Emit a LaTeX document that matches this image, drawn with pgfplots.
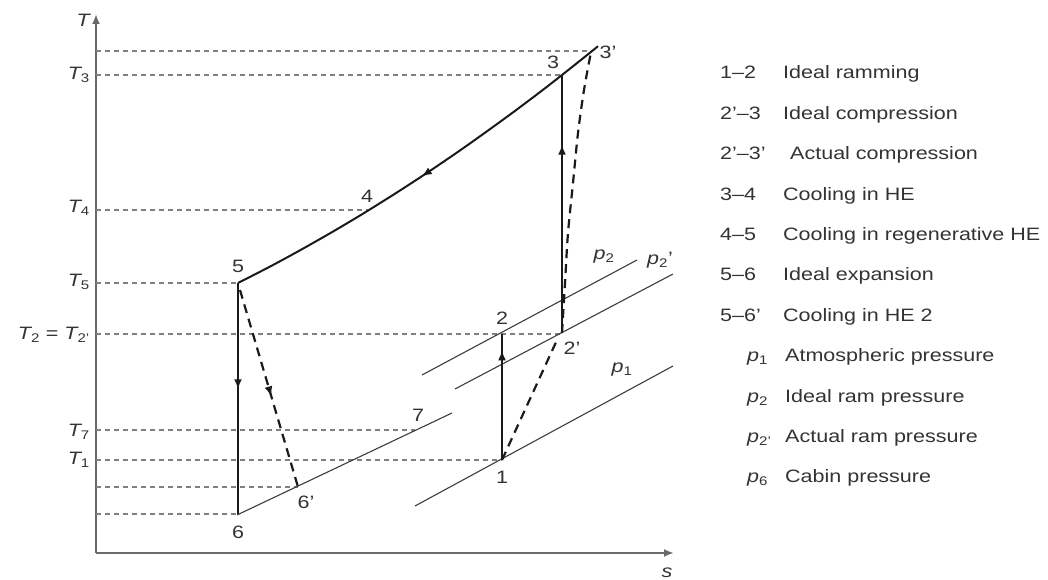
\documentclass[border=0pt]{standalone}
\usepackage{fontspec}
\setmainfont{Liberation Sans}[FakeStretch=1.2]
\usepackage{pgfplots}
\pgfplotsset{compat=1.18}
\usetikzlibrary{arrows.meta,decorations.markings}

\definecolor{ink}{HTML}{1A1A1A}
\definecolor{txt}{HTML}{333333}
\definecolor{guidegray}{HTML}{808080}
\definecolor{axisgray}{HTML}{6A6A6A}

\begin{document}
\begin{tikzpicture}[
  lbl/.style={font=\fontsize{18}{21}\selectfont, text=txt, inner sep=0pt},
]
\begin{axis}[
  width=1048bp, height=580bp, scale only axis,
  xmin=0, xmax=1048, ymin=0, ymax=580,
  hide axis, clip=false,
  tline/.style={guidegray, line width=1.3bp, dash pattern=on 5bp off 4bp, mark=none},
  proc/.style={ink, line width=2bp, mark=none},
  dproc/.style={ink, line width=2.2bp, dash pattern=on 9bp off 6bp, mark=none},
  isobar/.style={ink!85, line width=1.1bp, mark=none},
  arr/.style={postaction={decorate}, decoration={markings,
      mark=at position #1 with {\arrow{Latex[length=10bp,width=8bp]}}}},
]
% fixed page frame
\path (axis cs:0,0) rectangle (axis cs:1048,580);

% T and s axes
\draw[axisgray, line width=2bp, -{Latex[length=10bp,width=8bp]}] (axis cs:96,27) -- (axis cs:96,566);
\draw[axisgray, line width=2bp, -{Latex[length=10bp,width=8bp]}] (axis cs:96,27) -- (axis cs:674,27);

% temperature levels
\addplot[tline] coordinates {(96,529) (592,529)};
\addplot[tline] coordinates {(96,505) (562,505)};
\addplot[tline] coordinates {(96,370) (368,370)};
\addplot[tline] coordinates {(96,297) (238,297)};
\addplot[tline] coordinates {(96,246) (562,246)};
\addplot[tline] coordinates {(96,150) (415,150)};
\addplot[tline] coordinates {(96,120) (502,120)};
\addplot[tline] coordinates {(96,93) (298,93)};
\addplot[tline] coordinates {(96,66) (238,66)};

% constant-pressure lines
\addplot[isobar] coordinates {(237,65) (452,167)};   % p6
\addplot[isobar] coordinates {(415,74) (673,214)};   % p1
\addplot[isobar] coordinates {(422,205) (637,320)};  % p2
\addplot[isobar] coordinates {(455,191) (673,306)};  % p2'

% cooling curve 3'-3-4-5
\addplot[proc, smooth, arr=220pt] coordinates {
  (598,533.8) (590,527.3) (562,505) (540,487.9) (510,465.4) (480,443.7)
  (455,426.1) (425,405.8) (395,386.3) (362,365.7) (330,346.7) (300,329.7)
  (270,313.4) (238,297)};

% 1-2 ideal ramming
\addplot[proc, arr=0.87] coordinates {(502,120) (502,246)};
% 2'-3 ideal compression
\addplot[proc, arr=0.73] coordinates {(562,247) (562,505)};
% 5-6 ideal expansion
\addplot[proc, arr=0.46] coordinates {(238,297) (238,66)};

% actual processes
\addplot[dproc] coordinates {(502,120) (557,240)};
\addplot[dproc, smooth] coordinates {
  (562,247) (565,297) (568,347) (573,397) (578,447) (584,490) (591,528)};
\addplot[dproc, arr=0.54] coordinates {(240,290) (298,93)};

% axis labels
\node[lbl, anchor=base east] at (axis cs:90,553) {\itshape T};
\node[lbl] at (axis cs:667,7) {\itshape s};

\node[lbl, anchor=base east] at (axis cs:90,500) {{\itshape T}\textsubscript{3}};
\node[lbl, anchor=base east] at (axis cs:90,367) {{\itshape T}\textsubscript{4}};
\node[lbl, anchor=base east] at (axis cs:90,293) {{\itshape T}\textsubscript{5}};
\node[lbl, anchor=base east] at (axis cs:90,240) {{\itshape T}\textsubscript{2} = {\itshape T}\textsubscript{2'}};
\node[lbl, anchor=base east] at (axis cs:90,143) {{\itshape T}\textsubscript{7}};
\node[lbl, anchor=base east] at (axis cs:90,115) {{\itshape T}\textsubscript{1}};

% state points
\node[lbl] at (axis cs:553,518) {3};
\node[lbl] at (axis cs:608,528) {3'};
\node[lbl] at (axis cs:367,384) {4};
\node[lbl] at (axis cs:238,314) {5};
\node[lbl] at (axis cs:238,48) {6};
\node[lbl] at (axis cs:306,78) {6'};
\node[lbl] at (axis cs:418,165) {7};
\node[lbl] at (axis cs:502,103) {1};
\node[lbl] at (axis cs:502,262) {2};
\node[lbl] at (axis cs:572,232) {2'};
\node[lbl] at (axis cs:604,323) {{\itshape p}\textsubscript{2}};
\node[lbl] at (axis cs:660,320) {{\itshape p}\textsubscript{2}'};
\node[lbl] at (axis cs:622,210) {{\itshape p}\textsubscript{1}};

% key
\node[lbl, anchor=base west] at (axis cs:720,501)   {1–2};
\node[lbl, anchor=base west] at (axis cs:783,501)   {Ideal ramming};
\node[lbl, anchor=base west] at (axis cs:720,460.6) {2'–3};
\node[lbl, anchor=base west] at (axis cs:783,460.6) {Ideal compression};
\node[lbl, anchor=base west] at (axis cs:720,420.2) {2'–3'};
\node[lbl, anchor=base west] at (axis cs:790,420.2) {Actual compression};
\node[lbl, anchor=base west] at (axis cs:720,379.8) {3–4};
\node[lbl, anchor=base west] at (axis cs:783,379.8) {Cooling in HE};
\node[lbl, anchor=base west] at (axis cs:720,339.4) {4–5};
\node[lbl, anchor=base west] at (axis cs:783,339.4) {Cooling in regenerative HE};
\node[lbl, anchor=base west] at (axis cs:720,299)   {5–6};
\node[lbl, anchor=base west] at (axis cs:783,299)   {Ideal expansion};
\node[lbl, anchor=base west] at (axis cs:720,258.6) {5–6'};
\node[lbl, anchor=base west] at (axis cs:783,258.6) {Cooling in HE 2};
\node[lbl, anchor=base west] at (axis cs:747,218.2) {{\itshape p}\textsubscript{1}};
\node[lbl, anchor=base west] at (axis cs:785,218.2) {Atmospheric pressure};
\node[lbl, anchor=base west] at (axis cs:747,177.8) {{\itshape p}\textsubscript{2}};
\node[lbl, anchor=base west] at (axis cs:785,177.8) {Ideal ram pressure};
\node[lbl, anchor=base west] at (axis cs:747,137.4) {{\itshape p}\textsubscript{2'}};
\node[lbl, anchor=base west] at (axis cs:785,137.4) {Actual ram pressure};
\node[lbl, anchor=base west] at (axis cs:747,97)    {{\itshape p}\textsubscript{6}};
\node[lbl, anchor=base west] at (axis cs:785,97)    {Cabin pressure};
\end{axis}
\end{tikzpicture}
\end{document}
